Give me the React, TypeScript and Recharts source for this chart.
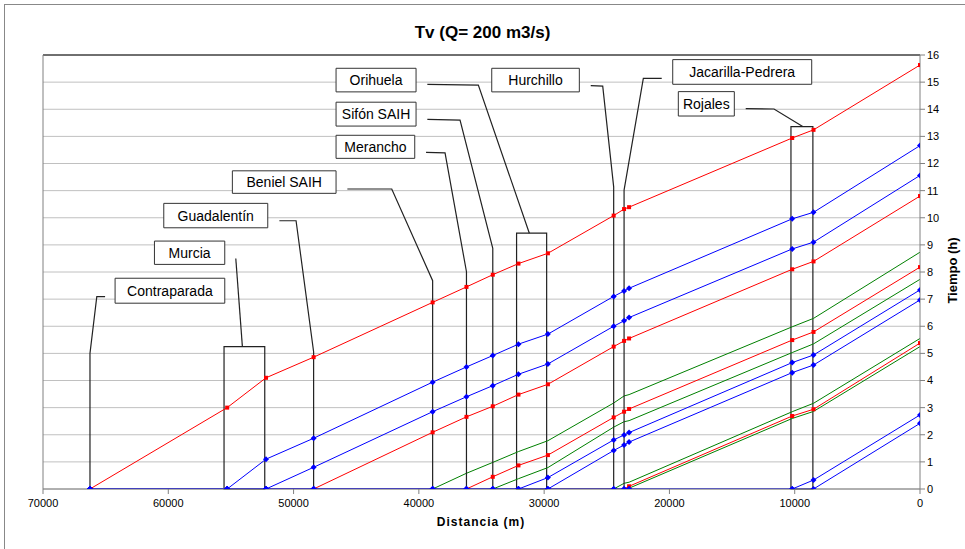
import React from 'react';
import { LineChart, Line, XAxis, YAxis, CartesianGrid, ReferenceLine, ReferenceArea } from 'recharts';

// Station distances (m)
const stations = [66250, 55300, 52200, 48400, 38900, 36200, 34100, 32050, 29700, 24450, 23620, 23220, 10200, 8500, 0];

// Series values (h) at each station
const green1 = [0, 0, 0, 0, 0, 0.58, 0.98, 1.38, 1.78, 3.17, 3.43, 3.48, 5.98, 6.29, 8.73];
const green2 = [0, 0, 0, 0, 0, 0, 0, 0.38, 0.79, 2.28, 2.48, 2.52, 5.03, 5.35, 7.73];
const green3 = [0, 0, 0, 0, 0, 0, 0, 0, 0, 0, 0.21, 0.25, 2.85, 3.16, 5.55];
const green4 = [0, 0, 0, 0, 0, 0, 0, 0, 0, 0, 0, 0.03, 2.6, 2.86, 5.25];
const red1 = [0, 3.0, 4.1, 4.86, 6.88, 7.45, 7.9, 8.31, 8.69, 10.08, 10.32, 10.39, 12.94, 13.24, 15.63];
const red2 = [0, 0, 0, 0, 2.09, 2.66, 3.05, 3.48, 3.86, 5.25, 5.46, 5.55, 8.1, 8.39, 10.8];
const red3 = [0, 0, 0, 0, 0, 0, 0.45, 0.87, 1.25, 2.64, 2.85, 2.95, 5.49, 5.79, 8.18];
const red4 = [0, 0, 0, 0, 0, 0, 0, 0, 0, 0, 0, 0.1, 2.69, 2.94, 5.38];
const blue1 = [0, 0, 1.1, 1.87, 3.94, 4.5, 4.92, 5.34, 5.71, 7.1, 7.3, 7.4, 9.96, 10.2, 12.66];
const blue2 = [0, 0, 0, 0.8, 2.85, 3.4, 3.81, 4.23, 4.61, 6.0, 6.2, 6.32, 8.85, 9.1, 11.56];
const blue3 = [0, 0, 0, 0, 0, 0, 0, 0, 0.42, 1.81, 1.99, 2.08, 4.66, 4.94, 7.34];
const blue4 = [0, 0, 0, 0, 0, 0, 0, 0, 0, 1.42, 1.62, 1.73, 4.29, 4.57, 6.97];
const blue5 = [0, 0, 0, 0, 0, 0, 0, 0, 0, 0, 0, 0, 0, 0.33, 2.73];
const blue6 = [0, 0, 0, 0, 0, 0, 0, 0, 0, 0, 0, 0, 0, 0, 2.42];

const xTicks = [0, 10000, 20000, 30000, 40000, 50000, 60000, 70000];
const yTicks = [0, 1, 2, 3, 4, 5, 6, 7, 8, 9, 10, 11, 12, 13, 14, 15, 16];

const GREEN = '#008000';
const RED = '#ff0000';
const BLUE = '#0000ff';

const seriesList = [
  { key: 'green1', values: green1, color: GREEN, marker: 'none' },
  { key: 'green2', values: green2, color: GREEN, marker: 'none' },
  { key: 'green3', values: green3, color: GREEN, marker: 'none' },
  { key: 'green4', values: green4, color: GREEN, marker: 'none' },
  { key: 'red1', values: red1, color: RED, marker: 'square' },
  { key: 'red2', values: red2, color: RED, marker: 'square' },
  { key: 'red3', values: red3, color: RED, marker: 'square' },
  { key: 'red4', values: red4, color: RED, marker: 'square' },
  { key: 'blue1', values: blue1, color: BLUE, marker: 'diamond' },
  { key: 'blue2', values: blue2, color: BLUE, marker: 'diamond' },
  { key: 'blue3', values: blue3, color: BLUE, marker: 'diamond' },
  { key: 'blue4', values: blue4, color: BLUE, marker: 'diamond' },
  { key: 'blue5', values: blue5, color: BLUE, marker: 'diamond' },
  { key: 'blue6', values: blue6, color: BLUE, marker: 'diamond' },
];

const rows = stations.map((d, i) => {
  const r: any = { d };
  seriesList.forEach((s) => { r[s.key] = s.values[i]; });
  return r;
});

// Callout leaders, in data units [distance, hours]
const leaders: number[][][] = [
  [[65044, 7.09], [65706, 7.09], [66250, 5.0], [66250, 0]],
  [[54612, 8.5], [54085, 5.25]],
  [[51134, 9.89], [49801, 9.89], [48400, 5.06], [48400, 0]],
  [[45707, 11.06], [42164, 11.06], [38900, 7.68], [38900, 0]],
  [[39426, 12.41], [37910, 12.39], [36200, 8.01], [36200, 0]],
  [[39322, 13.63], [36713, 13.6], [34100, 8.87], [34100, 0]],
  [[39322, 14.92], [35252, 14.89], [31181, 9.43]],
  [[26281, 14.87], [25324, 14.85], [24450, 11.14], [24450, 0]],
  [[20615, 15.14], [22083, 15.14], [23620, 11.02], [23620, 0]],
  [[13911, 14.02], [11652, 14.01], [9362, 13.36]],
];

// Rectangles around station pairs
const stationBoxes = [
  { x1: 55550, x2: 52300, top: 5.25 },
  { x1: 32200, x2: 29800, top: 9.43 },
  { x1: 10300, x2: 8550, top: 13.36 },
];

// Callout text boxes
const labelBoxes = [
  { text: 'Contraparada', x1: 64246, x2: 55491, y1: 6.85, y2: 7.77 },
  { text: 'Murcia', x1: 61105, x2: 55492, y1: 8.28, y2: 9.14 },
  { text: 'Guadalentín', x1: 60360, x2: 52060, y1: 9.63, y2: 10.53 },
  { text: 'Beniel SAIH', x1: 54885, x2: 46609, y1: 10.9, y2: 11.73 },
  { text: 'Merancho', x1: 46609, x2: 40328, y1: 12.19, y2: 13.04 },
  { text: 'Sifón SAIH', x1: 46609, x2: 40224, y1: 13.38, y2: 14.26 },
  { text: 'Orihuela', x1: 46609, x2: 40224, y1: 14.64, y2: 15.51 },
  { text: 'Hurchillo', x1: 34182, x2: 27191, y1: 14.64, y2: 15.51 },
  { text: 'Jacarilla-Pedrera', x1: 19737, x2: 8643, y1: 14.92, y2: 15.83 },
  { text: 'Rojales', x1: 19290, x2: 14820, y1: 13.75, y2: 14.65 },
];

const makeDot = (shape: string, color: string) => (p: any) => {
  const { cx, cy, index, value } = p;
  const v = Array.isArray(value) ? value[1] : value;
  if (cx == null || cy == null) return <g key={index} />;
  if (shape === 'square') {
    if (v === 0) return <g key={index} />;
    return <rect key={index} x={cx - 2} y={cy - 2} width={4} height={4} fill={color} />;
  }
  return <path key={index} d={`M${cx},${cy - 3}L${cx + 3},${cy}L${cx},${cy + 3}L${cx - 3},${cy}Z`} fill={color} />;
};

export default function App() {
  return (
    <div style={{ position: 'absolute', left: 0, top: 0, width: 965, height: 549, background: '#fff', fontFamily: '"Liberation Sans", Arial, sans-serif', overflow: 'hidden' }}>
      <div style={{ position: 'absolute', left: 4, top: 4, width: 980, height: 560, borderLeft: '1px solid #888', borderTop: '1px solid #888' }} />
      <div style={{ position: 'absolute', left: 0, top: 23, width: 965, textAlign: 'center', fontSize: 17, fontWeight: 'bold', color: '#000' }}>
        Tv (Q= 200 m3/s)
      </div>
      <div style={{ position: 'absolute', left: 0, top: 0 }}>
        <LineChart width={965} height={549} data={rows} margin={{ top: 55, left: 43, right: 5, bottom: 30 }}>
          <CartesianGrid vertical={false} stroke="#c0c0c0" strokeWidth={1} />
          <XAxis
            dataKey="d"
            type="number"
            domain={[0, 70000]}
            reversed
            ticks={xTicks}
            interval={0}
            height={30}
            tickSize={5}
            axisLine={{ stroke: '#808080' }}
            tickLine={{ stroke: '#808080' }}
            tick={{ fontSize: 11, fill: '#000', dy: 3 }}
            allowDataOverflow
          />
          <YAxis
            orientation="right"
            type="number"
            domain={[0, 16]}
            ticks={yTicks}
            interval={0}
            width={40}
            tickSize={5}
            axisLine={{ stroke: '#808080' }}
            tickLine={{ stroke: '#808080' }}
            tick={{ fontSize: 11, fill: '#000', textAnchor: 'start' }}
            allowDataOverflow
          />
          <ReferenceLine y={16} stroke="#000" strokeWidth={1} />
          <ReferenceLine x={70000} stroke="#808080" strokeWidth={1} />
          {seriesList.map((s) => (
            <Line
              key={s.key}
              dataKey={s.key}
              stroke={s.color}
              strokeWidth={1}
              dot={s.marker === 'none' ? false : makeDot(s.marker, s.color)}
              activeDot={false}
              isAnimationActive={false}
            />
          ))}
          {leaders.map((pts, i) => (
            <Line
              key={'lead' + i}
              data={pts.map(([d, h]) => ({ d, h }))}
              dataKey="h"
              stroke="#222"
              strokeWidth={1.2}
              dot={false}
              activeDot={false}
              isAnimationActive={false}
            />
          ))}
          {stationBoxes.map((b, i) => (
            <ReferenceArea key={'sb' + i} x1={b.x1} x2={b.x2} y1={0} y2={b.top} fill="none" fillOpacity={0} stroke="#222" strokeWidth={1.2} />
          ))}
          {labelBoxes.map((b, i) => (
            <ReferenceArea
              key={'lb' + i}
              x1={b.x1}
              x2={b.x2}
              y1={b.y1}
              y2={b.y2}
              fill="#fff"
              fillOpacity={1}
              stroke="#333"
              strokeWidth={1}
              label={{ value: b.text, position: 'center', fontSize: 14, fill: '#000' }}
            />
          ))}
        </LineChart>
      </div>
      <div style={{ position: 'absolute', left: 0, top: 515, width: 962, textAlign: 'center', fontSize: 12, fontWeight: 'bold', letterSpacing: 1, color: '#000' }}>
        Distancia (m)
      </div>
      <div style={{ position: 'absolute', left: 952, top: 272, width: 0, height: 0 }}>
        <div style={{ position: 'absolute', left: -50, top: -9, width: 100, textAlign: 'center', transform: 'rotate(-90deg)', fontSize: 13, fontWeight: 'bold', color: '#000', whiteSpace: 'nowrap' }}>
          Tiempo (h)
        </div>
      </div>
    </div>
  );
}
